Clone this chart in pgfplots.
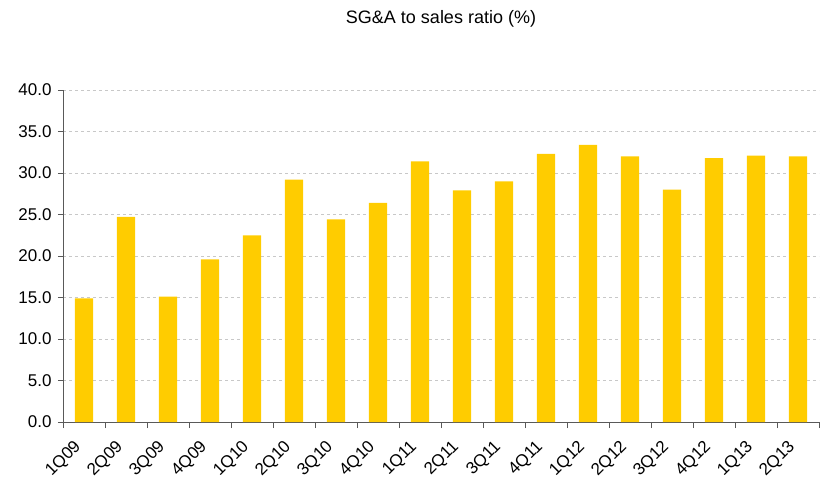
\documentclass[border=0pt]{standalone}
\usepackage{pgfplots}
\pgfplotsset{compat=1.18}
\usepackage{fontspec}
\setmainfont{Liberation Sans}
\definecolor{baryellow}{HTML}{FFCC00}
\definecolor{axisgray}{HTML}{595959}
\definecolor{gridgray}{HTML}{C8C8C8}
\begin{document}
\begin{tikzpicture}
\path[use as bounding box] (-63bp,-69bp) rectangle (766bp,422bp);
\begin{axis}[
  scale only axis,
  width=756bp, height=332bp,
  xmin=-0.5, xmax=17.5,
  ymin=0, ymax=40,
  axis x line*=bottom,
  axis y line*=left,
  axis line style={draw=axisgray, line width=0.9bp, -},
  xtick={0,...,17},
  xticklabels={1Q09,2Q09,3Q09,4Q09,1Q10,2Q10,3Q10,4Q10,1Q11,2Q11,3Q11,4Q11,1Q12,2Q12,3Q12,4Q12,1Q13,2Q13},
  major x tick style={draw=none},
  minor xtick={-0.5,0.5,...,17.5},
  minor x tick style={draw=axisgray, line width=0.9bp},
  minor tick length=6bp,
  ytick={0,5,...,40},
  major tick length=5bp,
  tick align=outside,
  y tick style={draw=axisgray, line width=0.9bp},
  ymajorgrids,
  grid style={draw=gridgray, dashed, dash pattern=on 3bp off 3bp, line width=0.6bp},
  /pgf/number format/assume math mode=true,
  tick label style={font=\fontsize{17bp}{20bp}\selectfont, text=black},
  yticklabel style={xshift=-3bp, /pgf/number format/fixed, /pgf/number format/fixed zerofill, /pgf/number format/precision=1},
  xticklabel style={xshift=-11bp, yshift=-7bp, rotate=45, anchor=north east},
  title={SG\&A to sales ratio (\%)},
  title style={font=\fontsize{18bp}{21bp}\selectfont, at={(0.5,1)}, anchor=center, yshift=65bp},
  clip=false,
]
\addplot[ybar, bar width=0.43, fill=baryellow, draw=none] coordinates {
(0,14.9) (1,24.7) (2,15.1) (3,19.6) (4,22.5) (5,29.2) (6,24.4) (7,26.4) (8,31.4)
(9,27.9) (10,29.0) (11,32.3) (12,33.4) (13,32.0) (14,28.0) (15,31.8) (16,32.1) (17,32.0)
};
\end{axis}
\end{tikzpicture}
\end{document}
